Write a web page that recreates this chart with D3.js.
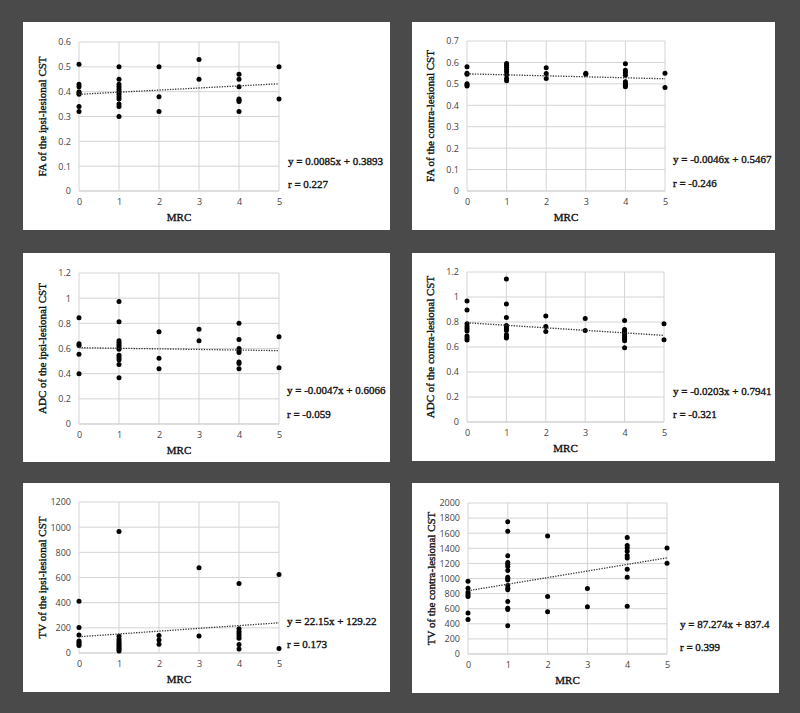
<!DOCTYPE html>
<html>
<head>
<meta charset="utf-8">
<script src="https://cdn.jsdelivr.net/npm/d3@7"></script>
<style>
  body { margin: 0; background: #4a4a4a; }
  svg { display: block; }
</style>
</head>
<body>
<svg id="chart" width="800" height="713"></svg>
<script>
// values per MRC grade (index 0..5)
let faIpsi = [
    [0.51, 0.43, 0.42, 0.40, 0.395, 0.39, 0.34, 0.32],
    [0.50, 0.45, 0.43, 0.42, 0.41, 0.40, 0.39, 0.38, 0.37, 0.35, 0.34, 0.30],
    [0.50, 0.38, 0.32],
    [0.53, 0.45],
    [0.47, 0.45, 0.42, 0.37, 0.365, 0.36, 0.32],
    [0.50, 0.37]
]
let faContra = [
    [0.58, 0.55, 0.545, 0.50, 0.495, 0.49],
    [0.595, 0.587, 0.578, 0.567, 0.556, 0.543, 0.525, 0.514],
    [0.575, 0.548, 0.525],
    [0.55, 0.545],
    [0.594, 0.564, 0.553, 0.54, 0.51, 0.50, 0.494, 0.486],
    [0.55, 0.483]
]
let adcIpsi = [
    [0.845, 0.637, 0.624, 0.555, 0.40],
    [0.973, 0.813, 0.661, 0.645, 0.629, 0.613, 0.595, 0.547, 0.528, 0.51, 0.472, 0.368],
    [0.733, 0.523, 0.44],
    [0.752, 0.661],
    [0.80, 0.672, 0.60, 0.584, 0.568, 0.493, 0.48, 0.44],
    [0.693, 0.448]
]
let adcContra = [
    [0.968, 0.896, 0.787, 0.765, 0.747, 0.728, 0.688, 0.672, 0.656],
    [1.144, 0.944, 0.837, 0.773, 0.76, 0.747, 0.733, 0.699, 0.685, 0.672],
    [0.848, 0.765, 0.725],
    [0.829, 0.733],
    [0.813, 0.741, 0.725, 0.712, 0.699, 0.683, 0.667, 0.651, 0.595],
    [0.787, 0.659]
]
let tvIpsi = [
    [411, 203, 144, 96, 83, 69, 59],
    [965, 133, 112, 96, 80, 67, 53, 40, 27, 16],
    [139, 104, 69],
    [677, 136],
    [552, 192, 171, 152, 136, 117, 67, 32],
    [624, 35]
]
let tvContra = [
    [965, 872, 819, 789, 762, 542, 458],
    [1753, 1626, 1300, 1212, 1189, 1159, 1106, 1018, 996, 980, 908, 872, 850, 696, 605, 590, 374],
    [1564, 762, 560],
    [868, 626],
    [1542, 1436, 1405, 1361, 1304, 1273, 1123, 1018, 634],
    [1405, 1203]
]

let seriesList = [faIpsi, faContra, adcIpsi, adcContra, tvIpsi, tvContra]
let yLabels = [
    "FA of the ipsi-lesional CST", "FA of the contra-lesional CST",
    "ADC of the ipsi-lesional CST", "ADC of the contra-lesional CST",
    "TV of the ipsi-lesional CST", "TV of the contra-lesional CST"
]
let yMax = [0.6, 0.7, 1.2, 1.2, 1200, 2000]
let yStep = [0.1, 0.1, 0.2, 0.2, 200, 200]
let slopes = [0.0085, -0.0046, -0.0047, -0.0203, 22.15, 87.274]
let intercepts = [0.3893, 0.5467, 0.6066, 0.7941, 129.22, 837.4]
let eqText = [
    "y = 0.0085x + 0.3893", "y = -0.0046x + 0.5467",
    "y = -0.0047x + 0.6066", "y = -0.0203x + 0.7941",
    "y = 22.15x + 129.22", "y = 87.274x + 837.4"
]
let rText = ["r = 0.227", "r = -0.246", "r = -0.059", "r = -0.321", "r = 0.173", "r = 0.399"]
let mrcTicks = [0, 1, 2, 3, 4, 5]

// layout of each panel: white box and plot area
let layouts = [
    { box: [23, 22, 367, 208], plot: [79, 42, 200, 149], eq: [288, 161, 184] },
    { box: [412, 22, 363, 208], plot: [467, 41, 198, 150], eq: [673, 159, 183] },
    { box: [23, 253, 367, 209], plot: [79, 273, 200, 151], eq: [287, 390, 414] },
    { box: [412, 253, 363, 208], plot: [467, 272, 197, 150], eq: [673, 391, 414] },
    { box: [23, 483, 367, 209], plot: [79, 502, 200, 151], eq: [287, 621, 644] },
    { box: [412, 483, 367, 210], plot: [468, 503, 199, 151], eq: [680, 624, 647] }
]

let svg = d3.select("#chart")
let serif = "'Liberation Serif', 'Times New Roman', serif"
let sans = "'Open Sans', 'Noto Sans', sans-serif"

function serifText(sel, size) {
    return sel.attr("font-family", serif)
        .attr("font-size", size)
        .attr("fill", "#111")
        .attr("stroke", "#111")
        .attr("stroke-width", 0.35)
}

function drawPanel(i) {
    let lay = layouts[i]
    let [bx, by, bw, bh] = lay.box
    let [px, py, pw, ph] = lay.plot

    svg.append("rect")
        .attr("x", bx).attr("y", by)
        .attr("width", bw).attr("height", bh)
        .attr("fill", "#ffffff")

    let g = svg.append("g").attr("transform", "translate(" + px + "," + py + ")")

    let x = d3.scaleLinear().domain([0, 5]).range([0, pw])
    let y = d3.scaleLinear().domain([0, yMax[i]]).range([ph, 0])
    let yTicks = d3.range(0, yMax[i] + yStep[i] / 2, yStep[i]).map(v => +v.toFixed(4))

    // grid
    g.selectAll(".hg").data(yTicks).enter().append("line")
        .attr("x1", 0).attr("x2", pw)
        .attr("y1", d => y(d)).attr("y2", d => y(d))
        .attr("stroke", d => d == 0 ? "#bdbdbd" : "#d4d4d4")
        .attr("stroke-width", 1)
    g.selectAll(".vg").data(mrcTicks).enter().append("line")
        .attr("x1", d => x(d)).attr("x2", d => x(d))
        .attr("y1", 0).attr("y2", ph)
        .attr("stroke", "#d4d4d4")
        .attr("stroke-width", 1)

    // axes (labels only)
    let yAxis = d3.axisLeft(y).tickValues(yTicks).tickSize(0).tickPadding(8)
        .tickFormat(d => String(d))
    let ya = g.append("g").call(yAxis)
    ya.select(".domain").remove()
    ya.selectAll("text").attr("font-family", sans).attr("font-size", 9).attr("fill", "#444")

    let xAxis = d3.axisBottom(x).tickValues(mrcTicks).tickSize(0).tickPadding(8)
        .tickFormat(d => String(d))
    let xa = g.append("g").attr("transform", "translate(0," + ph + ")").call(xAxis)
    xa.select(".domain").remove()
    xa.selectAll("text").attr("font-family", sans).attr("font-size", 9).attr("fill", "#444")

    // points
    let pts = []
    seriesList[i].forEach((vals, mrc) => vals.forEach(v => pts.push([mrc, v])))
    g.selectAll("circle").data(pts).enter().append("circle")
        .attr("cx", d => x(d[0]))
        .attr("cy", d => y(d[1]))
        .attr("r", 2.5)
        .attr("fill", "#000")

    // trend line
    g.append("line")
        .attr("x1", x(0)).attr("y1", y(intercepts[i]))
        .attr("x2", x(5)).attr("y2", y(intercepts[i] + slopes[i] * 5))
        .attr("stroke", "#333")
        .attr("stroke-width", 1.3)
        .attr("stroke-dasharray", "1.3,1.3")

    // axis titles
    svg.append("text")
        .attr("transform", "translate(" + (px - 37) + "," + (py + ph / 2) + ") rotate(-90)")
        .attr("text-anchor", "middle")
        .attr("dominant-baseline", "central")
        .call(serifText, 11)
        .text(yLabels[i])
    svg.append("text")
        .attr("x", px + pw / 2).attr("y", py + ph + 26)
        .attr("text-anchor", "middle")
        .attr("dominant-baseline", "central")
        .call(serifText, 11)
        .text("MRC")

    // equation and r
    svg.append("text")
        .attr("x", lay.eq[0]).attr("y", lay.eq[1])
        .attr("dominant-baseline", "central")
        .call(serifText, 11)
        .text(eqText[i])
    svg.append("text")
        .attr("x", lay.eq[0]).attr("y", lay.eq[2])
        .attr("dominant-baseline", "central")
        .call(serifText, 11)
        .text(rText[i])
}

for (let i = 0; i < 6; i++) drawPanel(i)
</script>
</body>
</html>
